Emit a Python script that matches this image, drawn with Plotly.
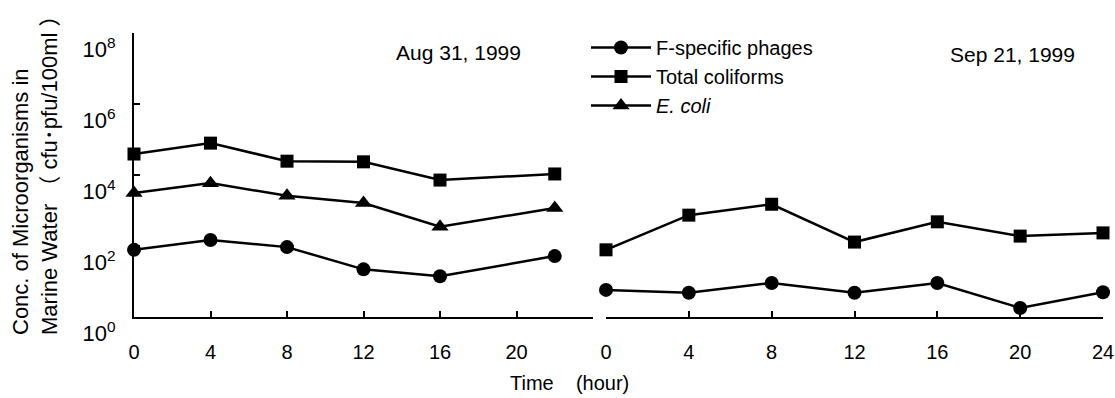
import plotly.graph_objects as go

# ---- data ----
aug_hours = [0, 4, 8, 12, 16, 22]
aug_phages = [78, 148, 93, 22, 14, 52]
aug_coliforms = [39000, 79000, 24500, 23500, 7200, 10700]
aug_ecoli = [3100, 5900, 2600, 1620, 350, 1170]

sep_hours = [0, 4, 8, 12, 16, 20, 24]
sep_phages = [5.8, 4.8, 9.1, 4.8, 9.1, 1.8, 5.0]
sep_coliforms = [78, 740, 1500, 129, 480, 190, 234]

y_tickvals = [1, 1e2, 1e4, 1e6, 1e8]
y_ticktext = ["10<sup>0</sup>", "10<sup>2</sup>", "10<sup>4</sup>", "10<sup>6</sup>", "10<sup>8</sup>"]
x_tickvals = [0, 4, 8, 12, 16, 20, 24]
aug_ticktext = ["0", "4", "8", "12", "16", "20", ""]
sep_ticktext = ["0", "4", "8", "12", "16", "20", "24"]

FONT = "Liberation Sans, Arial, Noto Sans CJK JP"
W, H = 1115, 398

fig = go.Figure()

line = dict(color="black", width=2.5)

def add(x, y, name, symbol, size, xa, ya, show):
    fig.add_trace(go.Scatter(
        x=x, y=y, mode="lines+markers", name=name,
        line=line, marker=dict(symbol=symbol, size=size, color="black"),
        xaxis=xa, yaxis=ya, showlegend=show, cliponaxis=False))

add(aug_hours, aug_phages, "F-specific phages", "circle", 14, "x", "y", True)
add(aug_hours, aug_coliforms, "Total coliforms", "square", 13, "x", "y", True)
add(aug_hours, aug_ecoli, "<i>E. coli</i>", "triangle-up", 15, "x", "y", True)
add(sep_hours, sep_phages, "F-specific phages", "circle", 14, "x2", "y2", False)
add(sep_hours, sep_coliforms, "Total coliforms", "square", 13, "x2", "y2", False)

common_x = dict(range=[0, 24], showline=True, linecolor="black", linewidth=2,
                ticks="inside", ticklen=6, tickwidth=1.5, tickcolor="black",
                tickvals=x_tickvals, showgrid=False, zeroline=False, automargin=False,
                tickfont=dict(size=20, color="black", family=FONT),
                ticklabelstandoff=16)

fig.update_layout(
    width=W, height=H,
    margin=dict(l=0, r=0, t=0, b=0, autoexpand=False),
    paper_bgcolor="white", plot_bgcolor="white",
    font=dict(family=FONT, color="black"),
    xaxis=dict(domain=[134 / W, 593 / W], anchor="y", ticktext=aug_ticktext, **common_x),
    xaxis2=dict(domain=[606 / W, 1103 / W], anchor="y2", ticktext=sep_ticktext, **common_x),
    yaxis=dict(type="log", range=[0, 8], domain=[(H - 317) / H, (H - 33) / H],
               anchor="x", showline=True, linecolor="black", linewidth=2, automargin=False,
               ticks="inside", ticklen=6, tickwidth=1.5, tickcolor="black",
               tickvals=y_tickvals, ticktext=y_ticktext, showgrid=False, zeroline=False,
               ticklabelposition="outside bottom",
               tickfont=dict(size=22, color="black", family=FONT), ticklabelstandoff=12),
    yaxis2=dict(type="log", range=[0, 8], domain=[(H - 317) / H, (H - 33) / H],
                anchor="x2", showline=False, showticklabels=False, ticks="", automargin=False,
                showgrid=False, zeroline=False),
    legend=dict(x=586 / W, y=1 - 28 / H, xanchor="left", yanchor="top",
                font=dict(size=20, color="black", family=FONT),
                itemwidth=60, bgcolor="rgba(0,0,0,0)", tracegroupgap=0),
    annotations=[
        dict(text="Aug 31, 1999", x=458 / W, y=1 - 52 / H, xref="paper", yref="paper",
             xanchor="center", yanchor="middle",
             showarrow=False, font=dict(size=21, color="black")),
        dict(text="Sep 21, 1999", x=1012 / W, y=1 - 55 / H, xref="paper", yref="paper",
             xanchor="center", yanchor="middle",
             showarrow=False, font=dict(size=21, color="black")),
        dict(text="Time    (hour)", x=569 / W, y=1 - 383 / H, xref="paper", yref="paper",
             xanchor="center", yanchor="middle",
             showarrow=False, font=dict(size=20, color="black")),
        dict(text="Conc. of Microorganisms in<br>Marine Water （ cfu･pfu/100ml ）",
             x=35 / W, y=1 - 170 / H, xref="paper", yref="paper", textangle=-90,
             xanchor="center", yanchor="middle", align="left",
             showarrow=False, font=dict(size=22, color="black")),
    ],
)

fig.write_html("out.html")
